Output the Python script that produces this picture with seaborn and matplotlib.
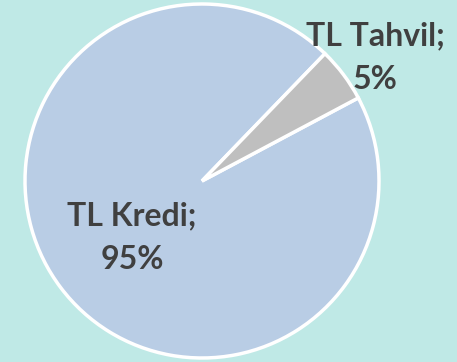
import matplotlib
matplotlib.use("Agg")
import matplotlib.pyplot as plt
import seaborn as sns

categories = ["TL Kredi", "TL Tahvil"]
shares = [95, 5]
colors = ["#b9cde5", "#bfbfbf"]

sns.set_style("white")
plt.rcParams["font.family"] = ["Lato", "DejaVu Sans"]

W, H = 457, 362
bg = "#bfe9e6"
fig = plt.figure(figsize=(W / 100, H / 100), dpi=100, facecolor=bg)
ax = fig.add_axes([0, 0, 1, 1])
ax.set_facecolor(bg)

cx, cy, r = 202, H - 181, 177
ax.pie(shares, colors=colors, startangle=46, counterclock=True,
       center=(cx, cy), radius=r, frame=True,
       wedgeprops=dict(edgecolor="white", linewidth=2.5))

ax.set_xlim(0, W)
ax.set_ylim(0, H)
ax.set_aspect("equal")
ax.axis("off")

label_pos = [(132, H - 238), (375, H - 58)]
for cat, val, (x, y) in zip(categories, shares, label_pos):
    ax.text(x, y, f"{cat};\n{val}%", ha="center", va="center",
            fontsize=23, fontweight="bold", color="#404040", linespacing=1.62)

fig.savefig("out.png", dpi=100, facecolor=bg)
